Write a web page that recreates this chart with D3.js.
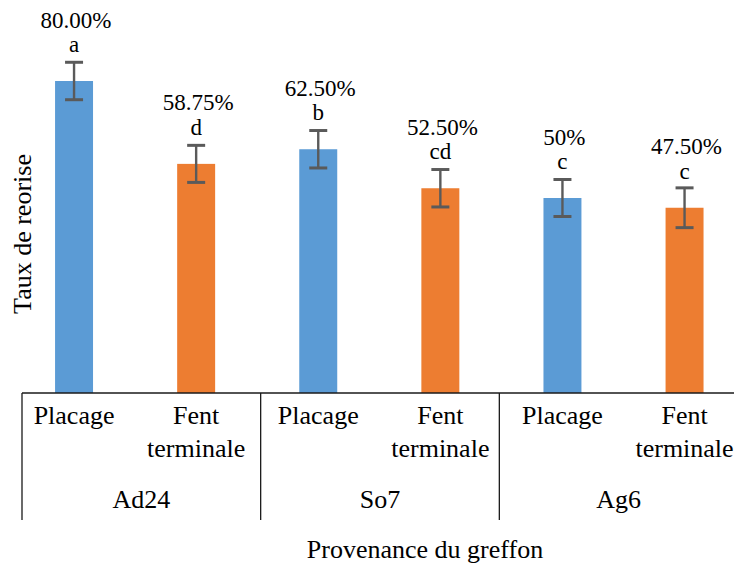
<!DOCTYPE html>
<html>
<head>
<meta charset="utf-8">
<script src="https://cdn.jsdelivr.net/npm/d3@7/dist/d3.min.js"></script>
<style>
  html, body { margin: 0; padding: 0; background: #ffffff; }
  svg { display: block; }
  text { font-family: "Liberation Serif", "Times New Roman", serif; fill: #000; }
</style>
</head>
<body>
<svg id="chart" width="734" height="564"></svg>
<script>
// Graft origin (outer axis level) and grafting method (inner level)
const groups = ["Ad24", "So7", "Ag6"];
const methods = ["Placage", "Fent terminale"];

// Graft take rate (%) per origin × method, in reading order
const values = [80.00, 58.75, 62.50, 52.50, 50.00, 47.50];
const errors = [4.8, 4.75, 4.8, 4.8, 4.75, 5.1];
const valueLabels = ["80.00%", "58.75%", "62.50%", "52.50%", "50%", "47.50%"];
const letters = ["a", "d", "b", "cd", "c", "c"];

const yTitle = "Taux de reorise";
const xTitle = "Provenance du greffon";

const colors = { "Placage": "#5B9BD5", "Fent terminale": "#ED7D31" };

// Flatten into one row per bar
const rows = [];
groups.forEach((g, gi) => {
  methods.forEach((m, mi) => {
    const i = gi * methods.length + mi;
    rows.push({ key: g + "|" + m, group: g, method: m, value: values[i],
                err: errors[i], label: valueLabels[i], letter: letters[i] });
  });
});

const svg = d3.select("#chart");
const baseY = 393;

const x = d3.scaleBand()
  .domain(rows.map(d => d.key))
  .range([13, 745.6])
  .paddingInner(0.689)
  .paddingOuter(0.3445);

const xGroup = d3.scaleBand()
  .domain(groups)
  .range([22, 738]);

const y = d3.scaleLinear().domain([0, 100]).range([baseY, 3]);

const cx = d => x(d.key) + x.bandwidth() / 2;

// Bars
svg.append("g").selectAll("rect")
  .data(rows)
  .join("rect")
  .attr("x", d => x(d.key))
  .attr("y", d => y(d.value))
  .attr("width", x.bandwidth())
  .attr("height", d => y(0) - y(d.value))
  .attr("fill", d => colors[d.method]);

// Error bars
const eb = svg.append("g")
  .attr("stroke", "#5a5a5a")
  .attr("stroke-width", 2.4)
  .attr("fill", "none");
const capHalf = 9;
rows.forEach(d => {
  const c = cx(d);
  const top = y(d.value + d.err), bot = y(d.value - d.err);
  eb.append("line").attr("x1", c).attr("x2", c).attr("y1", top).attr("y2", bot);
  eb.append("line").attr("x1", c - capHalf).attr("x2", c + capHalf).attr("y1", top).attr("y2", top).attr("stroke-width", 3);
  eb.append("line").attr("x1", c - capHalf).attr("x2", c + capHalf).attr("y1", bot).attr("y2", bot).attr("stroke-width", 3);
});

// Data labels: percentage over significance letter
const lab = svg.append("g").attr("text-anchor", "middle").style("font-size", "23px");
rows.forEach(d => {
  const c = cx(d);
  const letterBase = y(d.value) - 29;
  lab.append("text").attr("x", c + 2).attr("y", letterBase - 24.5).text(d.label);
  lab.append("text").attr("x", c).attr("y", letterBase).text(d.letter);
});

// Multi-level category axis
const axis = svg.append("g");
axis.append("line")
  .attr("x1", xGroup.range()[0]).attr("x2", 734)
  .attr("y1", baseY).attr("y2", baseY)
  .attr("stroke", "#1a1a1a").attr("stroke-width", 1.5);

groups.forEach(g => {
  axis.append("line")
    .attr("x1", xGroup(g)).attr("x2", xGroup(g))
    .attr("y1", baseY).attr("y2", 520)
    .attr("stroke", "#1a1a1a").attr("stroke-width", 1.3);
});

const tickText = axis.append("g").attr("text-anchor", "middle").style("font-size", "26px");
rows.forEach(d => {
  const words = d.method.split(" ");
  const t = tickText.append("text").attr("x", cx(d)).attr("y", 424);
  words.forEach((w, i) => {
    t.append("tspan").attr("x", cx(d)).attr("dy", i === 0 ? 0 : 33).text(w);
  });
});

groups.forEach(g => {
  tickText.append("text")
    .attr("x", xGroup(g) + xGroup.bandwidth() / 2)
    .attr("y", 508)
    .text(g);
});

// Axis titles
svg.append("text")
  .attr("text-anchor", "middle")
  .style("font-size", "26px")
  .attr("transform", "translate(31,234) rotate(-90)")
  .text(yTitle);

svg.append("text")
  .attr("text-anchor", "middle")
  .style("font-size", "26px")
  .attr("x", 425)
  .attr("y", 558)
  .text(xTitle);
</script>
</body>
</html>
